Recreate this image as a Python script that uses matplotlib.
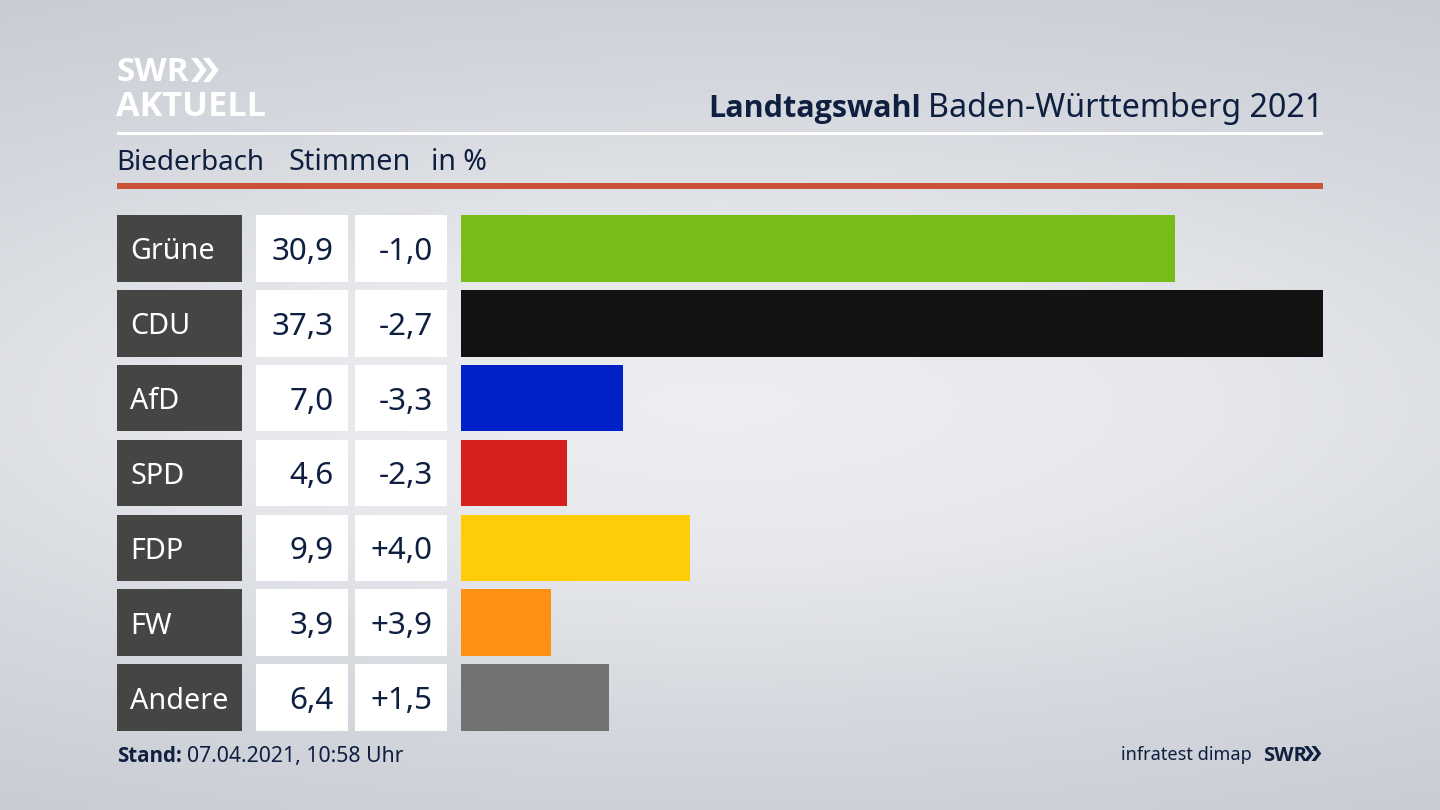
import numpy as np
import matplotlib
matplotlib.use("Agg")
import matplotlib.pyplot as plt
from matplotlib.patches import Rectangle, Polygon
from matplotlib.colors import LinearSegmentedColormap
from matplotlib.transforms import blended_transform_factory as btf

parties = ["Grüne", "CDU", "AfD", "SPD", "FDP", "FW", "Andere"]
shares = [30.9, 37.3, 7.0, 4.6, 9.9, 3.9, 6.4]
changes = ["-1,0", "-2,7", "-3,3", "-2,3", "+4,0", "+3,9", "+1,5"]
share_labels = ["30,9", "37,3", "7,0", "4,6", "9,9", "3,9", "6,4"]
colors = ["#78bc1a", "#121212", "#0020c8", "#d6201f", "#ffcc08", "#ff9014", "#717274"]

W, H = 1440, 810
NAVY = "#0e1f3f"
FONT = "Noto Sans"
BOLD = "Open Sans"
plt.rcParams["font.family"] = [FONT, "DejaVu Sans"]

fig = plt.figure(figsize=(W / 100, H / 100), dpi=100)
bg = fig.add_axes([0, 0, 1, 1])
bg.set_xlim(0, W)
bg.set_ylim(H, 0)
bg.axis("off")

yy, xx = np.mgrid[0:1:270j, 0:1:480j]
r = np.clip(np.sqrt(((xx - 0.5) / 1.0) ** 2 + ((yy - 0.5) / 0.58) ** 2), 0, 1)
cmap = LinearSegmentedColormap.from_list("bg", ["#eceef2", "#e6e8ec", "#d5d8de", "#c9ccd3"])
bg.imshow(r, cmap=cmap, vmin=0, vmax=1, extent=(0, W, H, 0), aspect="auto", zorder=0)

# header
bg.add_patch(Rectangle((117, 132), 1206, 3, color="white", lw=0, zorder=2))
bg.add_patch(Rectangle((117, 183), 1206, 6, color="#cb5238", lw=0, zorder=2))


def chevrons(x, y, h, color):
    w = h * 0.38
    t = h * 0.27
    for dx in (0, h * 0.5):
        bg.add_patch(Polygon([(x + dx, y), (x + dx + t, y), (x + dx + t + w, y + h / 2),
                              (x + dx + t, y + h), (x + dx, y + h), (x + dx + w, y + h / 2)],
                             closed=True, color=color, lw=0, zorder=3))


bg.text(117, 81, "SWR", fontsize=24, fontweight="bold", color="white", family=BOLD, va="baseline", zorder=3)
chevrons(191, 58, 24, "white")
bg.text(116, 116, "AKTUELL", fontsize=24.7, fontweight="bold", color="white", family=BOLD, va="baseline", zorder=3)

bg.text(1323, 117, "Baden-Württemberg 2021", fontsize=23.2, color=NAVY, ha="right", va="baseline", zorder=3)
bg.text(921, 117, "Landtagswahl", fontsize=22, fontweight="bold", color=NAVY, family=BOLD, ha="right", va="baseline", zorder=3)
bg.text(116, 170, "Biederbach", fontsize=20, color=NAVY, va="baseline", zorder=3)
bg.text(288, 170, "Stimmen", fontsize=20.8, color=NAVY, va="baseline", zorder=3)
bg.text(431, 170, "in %", fontsize=20.5, color=NAVY, va="baseline", zorder=3)

# footer
bg.text(117, 762, "Stand:", fontsize=14.8, fontweight="bold", color=NAVY, family=BOLD, va="baseline", zorder=3)
bg.text(187, 762, "07.04.2021, 10:58 Uhr", fontsize=15.3, color=NAVY, va="baseline", zorder=3)
bg.text(1252, 760, "infratest dimap", fontsize=13.1, color=NAVY, ha="right", va="baseline", zorder=3)
bg.text(1263, 761, "SWR", fontsize=14.5, fontweight="bold", color=NAVY, family=BOLD, va="baseline", zorder=3)
chevrons(1304, 746, 15, NAVY)

# bars: x axis spans 0..max share over pixels 461..1323; rows over pixels 215..731
ax = fig.add_axes([461 / W, 1 - 731 / H, (1323 - 461) / W, (731 - 215) / H])
ax.patch.set_alpha(0)
ax.axis("off")
ypos = np.arange(len(parties))
bar_h = 0.89
ax.barh(ypos, shares, height=bar_h, color=colors, linewidth=0)
ax.set_xlim(0, max(shares))
ax.set_ylim(len(parties) - 1 + bar_h / 2, -bar_h / 2)

tr = btf(bg.transData, ax.transData)
for i in ypos:
    top = i - bar_h / 2
    kw = dict(transform=tr, lw=0, clip_on=False, zorder=2)
    ax.add_patch(Rectangle((117, top), 124.5, bar_h, color="#454543", **kw))
    ax.add_patch(Rectangle((255.5, top), 92.5, bar_h, color="white", **kw))
    ax.add_patch(Rectangle((354.5, top), 92.5, bar_h, color="white", **kw))
    ax.text(130, i, parties[i], transform=tr, fontsize=20.7, color="white", va="center_baseline", zorder=3)
    ax.text(333.5, i, share_labels[i], transform=tr, fontsize=22.5, color=NAVY, ha="right", va="center_baseline", zorder=3)
    ax.text(432.5, i, changes[i], transform=tr, fontsize=22.5, color=NAVY, ha="right", va="center_baseline", zorder=3)

fig.savefig("out.png", dpi=100)
